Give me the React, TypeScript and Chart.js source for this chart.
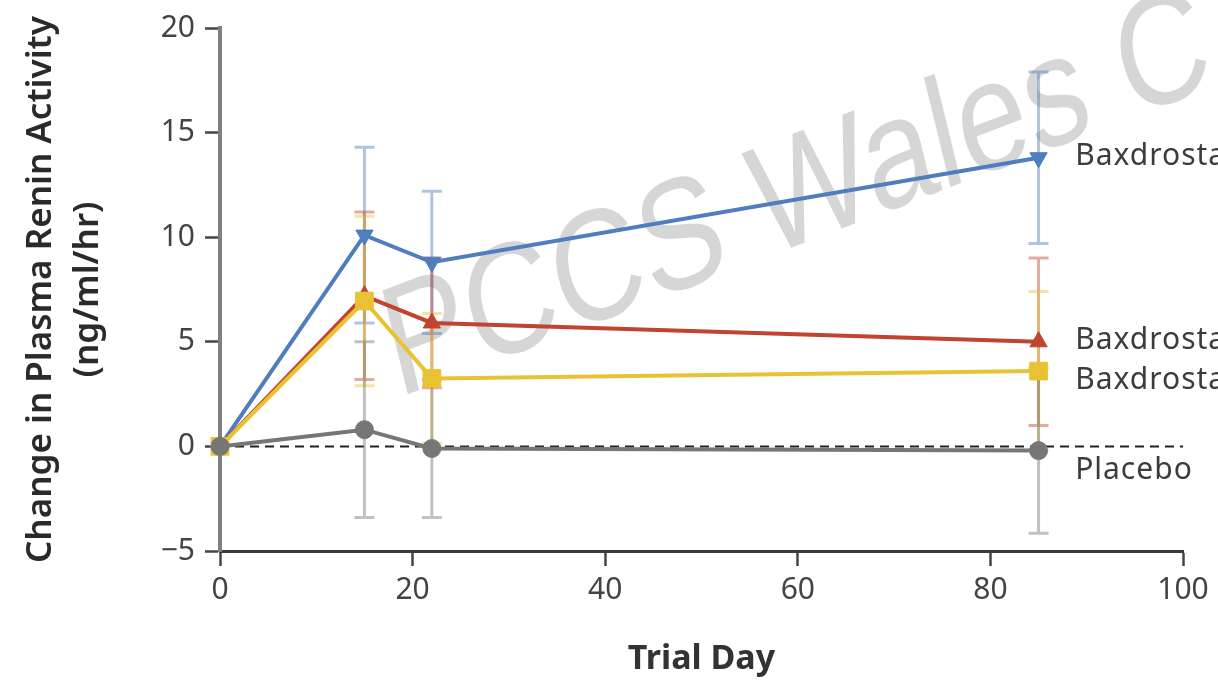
import React, { useEffect, useRef } from "react";
import { Chart, registerables } from "chart.js";

Chart.register(...registerables);

// Trial days at which plasma renin activity was measured
const trialDays = [0, 15, 22, 85];

// Mean change in plasma renin activity (ng/ml/hr) and standard error per group
const placeboMean = [0, 0.8, -0.1, -0.2];
const placeboErr = [0, 4.2, 3.3, 3.95];

const dose05Mean = [0, 6.95, 3.25, 3.6];
const dose05Err = [0, 4.05, 3.1, 3.8];

const dose1Mean = [0, 7.2, 5.9, 5.0];
const dose1Err = [0, 4.0, 3.1, 4.0];

const dose2Mean = [0, 10.1, 8.8, 13.8];
const dose2Err = [0, 4.2, 3.4, 4.1];

const groupNames = ["Placebo", "Baxdrostat, 0.5 mg", "Baxdrostat, 1 mg", "Baxdrostat, 2 mg"];

// Axis ticks
const xTicks = [0, 20, 40, 60, 80, 100];
const yTicks = [-5, 0, 5, 10, 15, 20];

const watermarkText = "PCCS Wales C";

const COLORS = {
  placebo: "rgb(118,118,116)",
  dose05: "rgb(233,194,52)",
  dose1: "rgb(193,67,48)",
  dose2: "rgb(80,125,190)",
};

const errColor = (rgb: string, a: number) => rgb.replace("rgb(", "rgba(").replace(")", `,${a})`);

const toPoints = (ys: number[]) => trialDays.map((d, i) => ({ x: d, y: ys[i] }));

export default function App() {
  const canvasRef = useRef<HTMLCanvasElement | null>(null);

  useEffect(() => {
    const canvas = canvasRef.current;
    if (!canvas) return;

    const series = [
      { name: groupNames[0], mean: placeboMean, err: placeboErr, color: COLORS.placebo, style: "circle", radius: 9, rotation: 0, labelAt: -1.15 },
      { name: groupNames[1], mean: dose05Mean, err: dose05Err, color: COLORS.dose05, style: "rect", radius: 12.5, rotation: 0, labelAt: 3.15 },
      { name: groupNames[2], mean: dose1Mean, err: dose1Err, color: COLORS.dose1, style: "triangle", radius: 10, rotation: 0, labelAt: 5.05 },
      { name: groupNames[3], mean: dose2Mean, err: dose2Err, color: COLORS.dose2, style: "triangle", radius: 10, rotation: 180, labelAt: 13.85 },
    ];

    // Watermark, zero reference line and error bars drawn beneath the lines
    const underlay = {
      id: "underlay",
      beforeDatasetsDraw(chart: any) {
        const { ctx, chartArea, scales } = chart;
        const xs = scales.x;
        const ys = scales.y;

        ctx.save();
        ctx.translate(398, 398);
        ctx.scale(1, 1.25);
        ctx.rotate((-17 * Math.PI) / 180);
        ctx.font = '126px "Liberation Sans", Arial, sans-serif';
        ctx.fillStyle = "rgb(214,214,214)";
        ctx.textBaseline = "alphabetic";
        ctx.fillText(watermarkText, 0, 0);
        ctx.restore();

        const y0 = ys.getPixelForValue(0);
        ctx.save();
        ctx.strokeStyle = "#222";
        ctx.lineWidth = 2;
        ctx.setLineDash([9, 6]);
        ctx.beginPath();
        ctx.moveTo(chartArea.left, y0);
        ctx.lineTo(chartArea.right, y0);
        ctx.stroke();
        ctx.restore();

        ctx.save();
        ctx.lineWidth = 3;
        // draw back to front so placebo error bars sit on top
        for (let s = series.length - 1; s >= 0; s--) {
          const sr = series[s];
          ctx.strokeStyle = errColor(sr.color, 0.45);
          sr.mean.forEach((m, i) => {
            const e = sr.err[i];
            if (!e) return;
            const px = xs.getPixelForValue(trialDays[i]);
            const top = ys.getPixelForValue(m + e);
            const bot = ys.getPixelForValue(m - e);
            ctx.beginPath();
            ctx.moveTo(px, top);
            ctx.lineTo(px, bot);
            ctx.moveTo(px - 10, top);
            ctx.lineTo(px + 10, top);
            ctx.moveTo(px - 10, bot);
            ctx.lineTo(px + 10, bot);
            ctx.stroke();
          });
        }
        ctx.restore();
      },
      afterDraw(chart: any) {
        const { ctx, scales } = chart;
        ctx.save();
        ctx.font = '30px "Noto Sans", "Open Sans", sans-serif';
        ctx.fillStyle = "#3c3c3c";
        ctx.textBaseline = "middle";
        ctx.textAlign = "left";
        (ctx as any).letterSpacing = "1px";
        const lx = scales.x.getPixelForValue(88.8);
        series.forEach((sr) => {
          ctx.fillText(sr.name, lx, scales.y.getPixelForValue(sr.labelAt));
        });
        ctx.restore();
      },
    };

    const chart = new Chart(canvas, {
      type: "line",
      data: {
        datasets: series.map((sr) => ({
          label: sr.name,
          data: toPoints(sr.mean),
          borderColor: sr.color,
          backgroundColor: sr.color,
          borderWidth: 4,
          tension: 0,
          clip: false,
          pointStyle: sr.style as any,
          pointRadius: sr.radius,
          pointRotation: sr.rotation,
          pointBorderWidth: 1,
          pointBorderColor: sr.color,
          pointBackgroundColor: sr.color,
        })),
      },
      options: {
        animation: false,
        responsive: false,
        devicePixelRatio: 1,
        layout: { padding: { top: 25, right: 35, left: 0, bottom: 0 } },
        plugins: { legend: { display: false }, tooltip: { enabled: false } },
        scales: {
          x: {
            type: "linear",
            min: 0,
            max: 100,
            afterFit: (scale: any) => {
              scale.height = 129;
            },
            afterBuildTicks: (scale: any) => {
              scale.ticks = xTicks.map((v) => ({ value: v }));
            },
            ticks: {
              font: { family: '"Noto Sans", "Open Sans", sans-serif', size: 30 },
              color: "#444",
              padding: 6,
              maxRotation: 0,
            },
            grid: { drawOnChartArea: false, drawTicks: true, tickLength: 15, color: "#444", tickWidth: 2.5 },
            border: { display: true, color: "#3a3a3a", width: 3 },
            title: {
              display: true,
              text: "Trial Day",
              color: "#333",
              font: { family: '"Noto Sans", "Open Sans", sans-serif', size: 34, weight: "bold" },
              padding: { top: 0, bottom: 0 },
            },
          },
          y: {
            type: "linear",
            min: -5,
            max: 20,
            afterFit: (scale: any) => {
              scale.width = 220;
            },
            afterBuildTicks: (scale: any) => {
              scale.ticks = yTicks.map((v) => ({ value: v }));
            },
            ticks: {
              font: { family: '"Noto Sans", "Open Sans", sans-serif', size: 30 },
              color: "#444",
              padding: 10,
              callback: (v: any) => (Number(v) < 0 ? "\u2212" + Math.abs(Number(v)) : String(v)),
            },
            grid: { drawOnChartArea: false, drawTicks: true, tickLength: 15, color: "#444", tickWidth: 2.5 },
            border: { display: true, color: "#808080", width: 4 },
            title: {
              display: true,
              text: ["Change in Plasma Renin Activity", "(ng/ml/hr)"],
              color: "#2a2a2a",
              font: { family: '"Noto Sans", "Open Sans", sans-serif', size: 35, weight: 600, lineHeight: 1.35 },
              padding: { top: 17, bottom: 0 },
            },
          },
        },
      },
      plugins: [underlay],
    });

    return () => chart.destroy();
  }, []);

  return (
    <div style={{ position: "absolute", left: 0, top: 0, width: 1218, height: 680, background: "#fff" }}>
      <canvas ref={canvasRef} width={1218} height={680} />
    </div>
  );
}
